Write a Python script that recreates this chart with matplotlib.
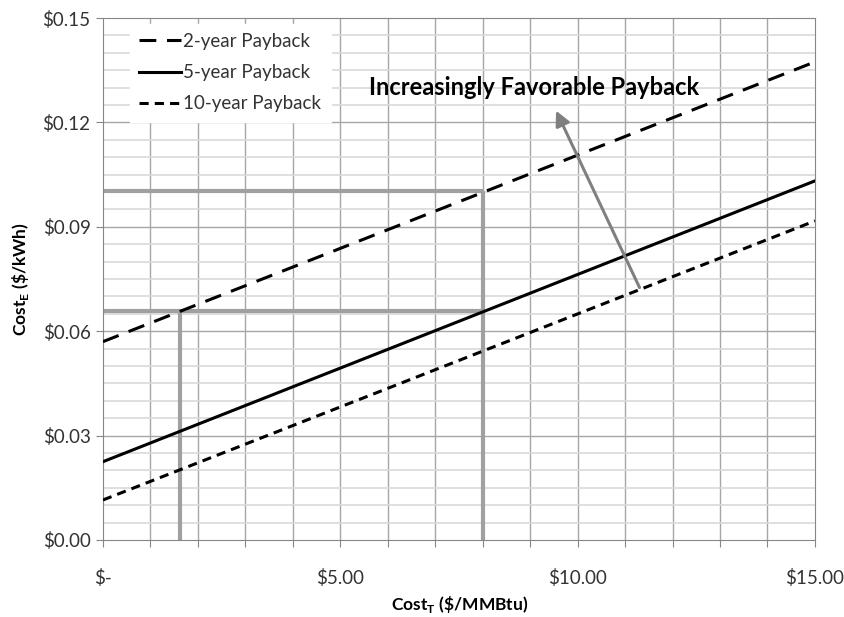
# payback chart: electricity cost vs thermal cost
import matplotlib
matplotlib.use('Agg')
import matplotlib.pyplot as plt
import numpy as np

plt.rcParams['font.family'] = ['Lato', 'DejaVu Sans']
plt.rcParams['mathtext.fontset'] = 'custom'
plt.rcParams['mathtext.bf'] = 'Lato:bold'

# endpoints
costT = [0, 15]
pay2 = [0.0570, 0.1374]
pay5 = [0.0225, 0.1032]
pay10 = [0.0115, 0.0917]

# gray guide lines (example reading)
guideX = [1.62, 8.0]
guideY = [0.0658, 0.1004]

xticks = [0, 5, 10, 15]
xticklabels = ['$-', '$5.00', '$10.00', '$15.00']
yticks = [0.00, 0.03, 0.06, 0.09, 0.12, 0.15]
yticklabels = ['$0.00', '$0.03', '$0.06', '$0.09', '$0.12', '$0.15']

fig = plt.figure(figsize=(8.44, 6.17), dpi=100)
ax = fig.add_axes([0.122, 0.1248, 0.8436, 0.846])

# grid
for v in np.arange(1, 15):
    ax.axvline(v, color='#a6a6a6', lw=1, zorder=0)
for h in np.arange(0.005, 0.15, 0.005):
    if abs(h / 0.03 - round(h / 0.03)) < 1e-6:
        ax.axhline(h, color='#a6a6a6', lw=1, zorder=0)
    else:
        ax.axhline(h, color='#d9d9d9', lw=1.2, zorder=0)

# guide lines
ax.plot([0, guideX[1]], [guideY[1], guideY[1]], color='#a0a0a0', lw=3, zorder=2, solid_capstyle='butt')
ax.plot([guideX[1], guideX[1]], [0, guideY[1]], color='#a0a0a0', lw=3, zorder=2, solid_capstyle='butt')
ax.plot([0, guideX[1]], [guideY[0], guideY[0]], color='#a0a0a0', lw=3, zorder=2, solid_capstyle='butt')
ax.plot([guideX[0], guideX[0]], [0, guideY[0]], color='#a0a0a0', lw=3, zorder=2, solid_capstyle='butt')

l2, = ax.plot(costT, pay2, color='black', lw=2.2, dashes=(5.5, 3.5), zorder=3, label='2-year Payback')
l5, = ax.plot(costT, pay5, color='black', lw=2.2, zorder=3, label='5-year Payback')
l10, = ax.plot(costT, pay10, color='black', lw=2.2, dashes=(3, 2), zorder=3, label='10-year Payback')

# arrow
ax.annotate('', xy=(9.52, 0.1241), xytext=(11.33, 0.0718),
            arrowprops=dict(arrowstyle='-|>', color='#808080', lw=2.2,
                            mutation_scale=22), zorder=4)
ax.text(9.08, 0.1299, 'Increasingly Favorable Payback', ha='center', va='center',
        fontsize=17, fontweight='bold', color='black', zorder=5)

ax.set_xlim(0, 15)
ax.set_ylim(0, 0.15)
ax.set_xticks(np.arange(0, 16))
ax.set_xticklabels(['' if i not in xticks else xticklabels[xticks.index(i)] for i in range(16)])
ax.set_yticks(yticks)
ax.set_yticklabels(yticklabels)
ax.tick_params(axis='x', length=5, color='#868686', pad=16, labelsize=13.5, labelcolor='#333333')
ax.tick_params(axis='y', length=5, color='#868686', pad=4, labelsize=13.5, labelcolor='#333333')
for s in ax.spines.values():
    s.set_color('#868686')

ax.set_xlabel('Cost$_\\mathbf{T}$ (\\$/MMBtu)', fontsize=12.5, fontweight='bold', va='center')
ax.xaxis.set_label_coords(0.501, -0.124)
ax.set_ylabel('Cost$_\\mathbf{E}$ (\\$/kWh)', fontsize=12.5, fontweight='bold', labelpad=8)

leg = ax.legend(handles=[l2, l5, l10], loc='upper left', bbox_to_anchor=(0.03, 1.0),
                frameon=True, fontsize=13.5, handlelength=2.2, handletextpad=0.15,
                labelspacing=0.75, borderpad=0.5, borderaxespad=0.3, fancybox=False)
leg.get_frame().set_edgecolor('white')
leg.get_frame().set_facecolor('white')
leg.get_frame().set_alpha(1)
for t in leg.get_texts():
    t.set_color('#333333')

fig.savefig('out.png', dpi=100)
